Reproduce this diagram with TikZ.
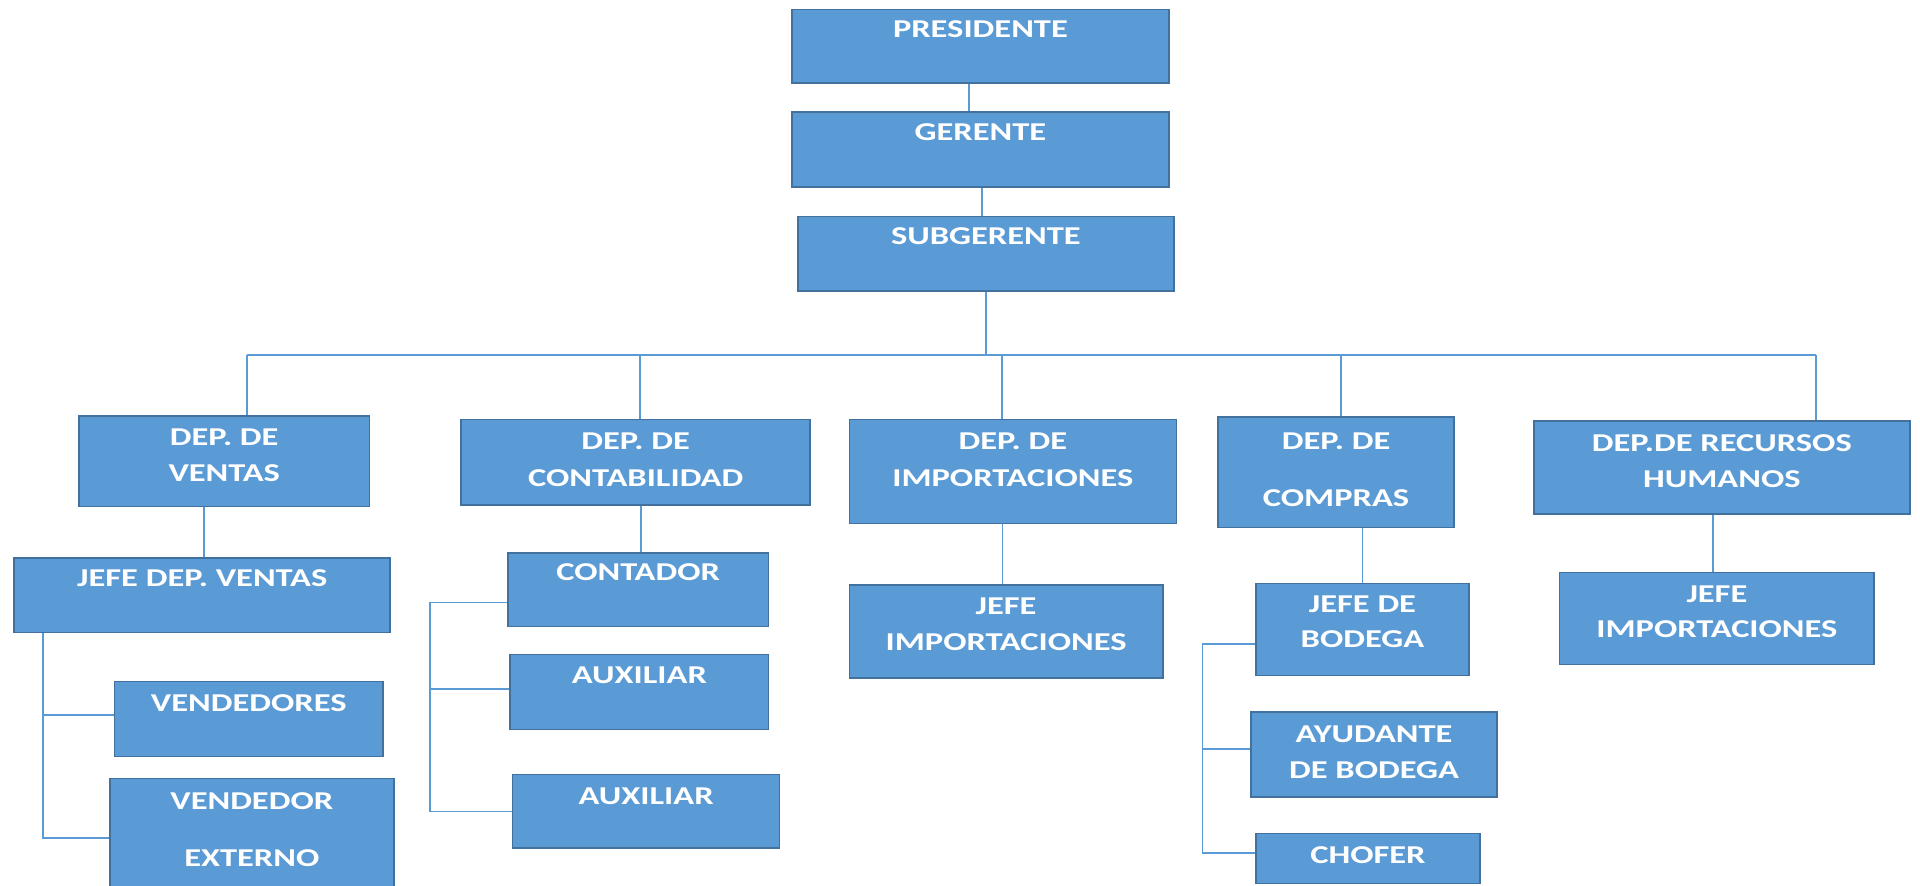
\documentclass[tikz,border=0pt]{standalone}
\usepackage{fontspec}
\setmainfont{Carlito}
\definecolor{boxfill}{HTML}{5B9BD5}
\definecolor{boxborder}{HTML}{41719C}
\definecolor{conn}{HTML}{5B9BD5}
\newcommand\wtxt[1]{\scalebox{1.34}[1]{#1}}
\tikzset{
  box/.style={draw=boxborder, fill=boxfill, line width=1.3pt, inner sep=0pt, anchor=north west},
  txt/.style={text=white, font=\fontsize{21}{21}\selectfont\bfseries, anchor=base, inner sep=0pt},
  cn/.style={draw=conn, line width=1.5pt}
}
\begin{document}
\begin{tikzpicture}[x=1pt,y=-1pt]
\clip (0,0) rectangle (1568,723);
\fill[white] (0,0) rectangle (1568,723);
% boxes
\node[box, minimum width=308pt, minimum height=60pt] (pres) at (646,7) {};
\node[box, minimum width=308pt, minimum height=61pt] (ger) at (646,91) {};
\node[box, minimum width=307pt, minimum height=61pt] (sub) at (651,176) {};
\node[box, minimum width=237pt, minimum height=74pt] (dv) at (64,339) {};
\node[box, minimum width=285pt, minimum height=70pt] (dc) at (376,342) {};
\node[box, minimum width=267pt, minimum height=85pt] (di) at (693,342) {};
\node[box, minimum width=193pt, minimum height=90pt] (dp) at (994,340) {};
\node[box, minimum width=307pt, minimum height=76pt] (dr) at (1252,343) {};
\node[box, minimum width=307pt, minimum height=61pt] (jv) at (11,455) {};
\node[box, minimum width=213pt, minimum height=60pt] (cont) at (414,451) {};
\node[box, minimum width=256pt, minimum height=76pt] (ji) at (693,477) {};
\node[box, minimum width=174pt, minimum height=75pt] (jb) at (1025,476) {};
\node[box, minimum width=257pt, minimum height=75pt] (jr) at (1273,467) {};
\node[box, minimum width=219pt, minimum height=61pt] (vd) at (93,556) {};
\node[box, minimum width=232pt, minimum height=98pt] (ve) at (89,635) {};
\node[box, minimum width=211pt, minimum height=61pt] (a1) at (416,534) {};
\node[box, minimum width=218pt, minimum height=60pt] (a2) at (418,632) {};
\node[box, minimum width=201pt, minimum height=69pt] (ay) at (1021,581) {};
\node[box, minimum width=183pt, minimum height=41pt] (ch) at (1025,680) {};
% texts
\node[txt] (tpres) at (pres.center |- 0,31) {\wtxt{PRESIDENTE}};
\node[txt] (tger) at (ger.center |- 0,115) {\wtxt{GERENTE}};
\node[txt] (tsub) at (sub.center |- 0,200) {\wtxt{SUBGERENTE}};
\node[txt] (tdv1) at (dv.center |- 0,364) {\wtxt{DEP. DE}};
\node[txt] (tdv2) at (dv.center |- 0,393) {\wtxt{VENTAS}};
\node[txt] (tdc1) at (dc.center |- 0,367) {\wtxt{DEP. DE}};
\node[txt] (tdc2) at (dc.center |- 0,397) {\wtxt{CONTABILIDAD}};
\node[txt] (tdi1) at (di.center |- 0,367) {\wtxt{DEP. DE}};
\node[txt] (tdi2) at (di.center |- 0,397) {\wtxt{IMPORTACIONES}};
\node[txt] (tdp1) at (dp.center |- 0,367) {\wtxt{DEP. DE}};
\node[txt] (tdp2) at (dp.center |- 0,414) {\wtxt{COMPRAS}};
\node[txt] (tdr1) at (dr.center |- 0,369) {\wtxt{DEP.DE RECURSOS}};
\node[txt] (tdr2) at (dr.center |- 0,398) {\wtxt{HUMANOS}};
\node[txt] (tjv) at (jv.center |- 0,479) {\wtxt{JEFE DEP. VENTAS}};
\node[txt] (tcont) at (cont.center |- 0,474) {\wtxt{CONTADOR}};
\node[txt] (tji1) at (ji.center |- 0,502) {\wtxt{JEFE}};
\node[txt] (tji2) at (ji.center |- 0,531) {\wtxt{IMPORTACIONES}};
\node[txt] (tjb1) at (jb.center |- 0,500) {\wtxt{JEFE DE}};
\node[txt] (tjb2) at (jb.center |- 0,529) {\wtxt{BODEGA}};
\node[txt] (tjr1) at (jr.center |- 0,492) {\wtxt{JEFE}};
\node[txt] (tjr2) at (jr.center |- 0,521) {\wtxt{IMPORTACIONES}};
\node[txt] (tvd) at (vd.center |- 0,581) {\wtxt{VENDEDORES}};
\node[txt] (tve1) at (ve.center |- 0,661) {\wtxt{VENDEDOR}};
\node[txt] (tve2) at (ve.center |- 0,708) {\wtxt{EXTERNO}};
\node[txt] (ta1) at (a1.center |- 0,558) {\wtxt{AUXILIAR}};
\node[txt] (ta2) at (a2.center |- 0,657) {\wtxt{AUXILIAR}};
\node[txt] (tay1) at (ay.center |- 0,606) {\wtxt{AYUDANTE}};
\node[txt] (tay2) at (ay.center |- 0,636) {\wtxt{DE BODEGA}};
\node[txt] (tch) at (ch.center |- 0,705) {\wtxt{CHOFER}};
% top connectors
\draw[cn] ([xshift=-9pt]pres.south) -- ([xshift=-9pt]pres.south |- ger.north);
\draw[cn] ([xshift=1pt]ger.south) -- ([xshift=1pt]ger.south |- sub.north);
\coordinate (bus) at (805,290);
\coordinate (b1) at (202,290);
\coordinate (b2) at (523,290);
\coordinate (b3) at (818,290);
\coordinate (b4) at (1095,290);
\coordinate (b5) at (1483,290);
\draw[cn] (sub.south -| bus) -- (bus);
\draw[cn] (b1) -- (b5);
\draw[cn] (b1) -- (b1 |- dv.north);
\draw[cn] (b2) -- (b2 |- dc.north);
\draw[cn] (b3) -- (b3 |- di.north);
\draw[cn] (b4) -- (b4 |- dp.north);
\draw[cn] (b5) -- (b5 |- dr.north);
% department to heads
\draw[cn] ([xshift=-16.5pt]dv.south) -- ([xshift=-16.5pt]dv.south |- jv.north);
\draw[cn] ([xshift=4.5pt]dc.south) -- ([xshift=4.5pt]dc.south |- cont.north);
\draw[cn] ([xshift=-8.5pt]di.south) -- ([xshift=-8.5pt]di.south |- ji.north);
\draw[cn] ([xshift=21.5pt]dp.south) -- ([xshift=21.5pt]dp.south |- jb.north);
\draw[cn] ([xshift=-7.5pt]dr.south) -- ([xshift=-7.5pt]dr.south |- jr.north);
% ventas children
\coordinate (vtop) at ([xshift=24pt]jv.south west);
\draw[cn] (vtop) |- ([yshift=3.5pt]vd.west);
\draw[cn] (vtop) |- (ve.west);
% contabilidad children
\coordinate (ct) at (351,492);
\draw[cn] (ct) -- (ct -| cont.west);
\draw[cn] (ct) |- ([yshift=2.5pt]a1.west);
\draw[cn] (ct) |- (a2.west);
% compras children
\coordinate (cb) at (982,526);
\draw[cn] (cb) -- (cb -| jb.west);
\draw[cn] (cb) |- ([yshift=4.5pt]ay.west);
\draw[cn] (cb) |- ([yshift=4.5pt]ch.west);
\end{tikzpicture}
\end{document}
